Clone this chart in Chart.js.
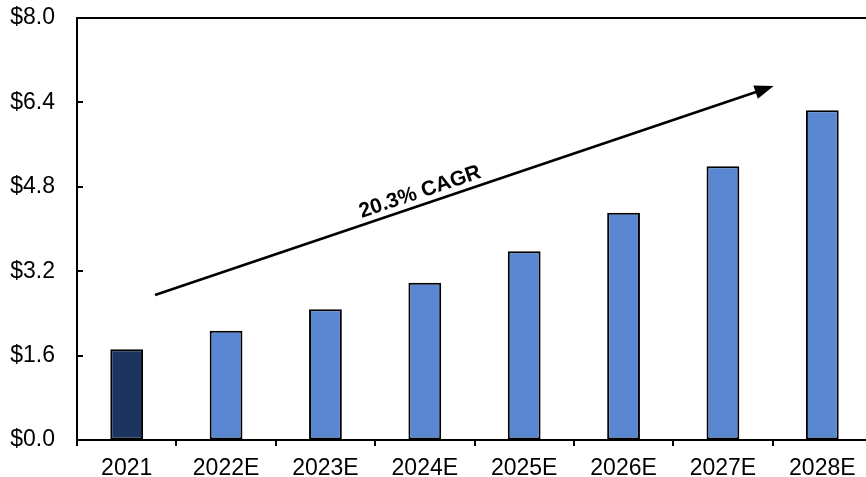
<!DOCTYPE html>
<html>
<head>
<meta charset="utf-8">
<script src="https://cdn.jsdelivr.net/npm/chart.js@4/dist/chart.umd.min.js"></script>
<style>
  html, body { margin: 0; padding: 0; background: #fff; overflow: hidden; }
  #wrap { width: 866px; height: 477px; overflow: hidden; }
</style>
</head>
<body>
<div id="wrap"><canvas id="c" width="872" height="477"></canvas></div>
<script>
// Market size, $ billions
const categories = ['2021', '2022E', '2023E', '2024E', '2025E', '2026E', '2027E', '2028E'];
const values = [1.72, 2.07, 2.48, 2.98, 3.58, 4.31, 5.19, 6.25];
const yTickValues = [0, 1.6, 3.2, 4.8, 6.4, 8.0];
const cagrLabel = '20.3% CAGR';

const actualColor = '#1c3560';
const forecastColor = '#5a87d1';
const font = 'Arial, "Liberation Sans", sans-serif';

// Frame: top border and inward y tick marks
const framePlugin = {
  id: 'frame',
  afterDatasetsDraw(chart) {
    const { ctx, chartArea: a, scales: { y } } = chart;
    ctx.save();
    ctx.strokeStyle = '#000';
    ctx.lineWidth = 2;
    ctx.beginPath();
    ctx.moveTo(a.left - 1, a.top);
    ctx.lineTo(a.right, a.top);
    ctx.stroke();
    ctx.beginPath();
    yTickValues.forEach(v => {
      const py = Math.round(y.getPixelForValue(v));
      ctx.moveTo(a.left, py);
      ctx.lineTo(a.left + 6, py);
    });
    ctx.stroke();
    ctx.restore();
  }
};

// Growth arrow with CAGR label, anchored in data units
const cagrArrowPlugin = {
  id: 'cagrArrow',
  afterDatasetsDraw(chart, args, opts) {
    const { ctx, scales: { x, y } } = chart;
    const x0 = x.getPixelForValue(opts.from[0]);
    const y0 = y.getPixelForValue(opts.from[1]);
    const x1 = x.getPixelForValue(opts.to[0]);
    const y1 = y.getPixelForValue(opts.to[1]);
    const ang = Math.atan2(y1 - y0, x1 - x0);
    const headLen = 19, headHalf = 7;
    ctx.save();
    ctx.strokeStyle = '#000';
    ctx.fillStyle = '#000';
    ctx.lineWidth = 2.6;
    ctx.beginPath();
    ctx.moveTo(x0, y0);
    ctx.lineTo(x1 - Math.cos(ang) * (headLen - 2), y1 - Math.sin(ang) * (headLen - 2));
    ctx.stroke();
    ctx.translate(x1, y1);
    ctx.rotate(ang);
    ctx.beginPath();
    ctx.moveTo(0, 0);
    ctx.lineTo(-headLen, -headHalf);
    ctx.lineTo(-headLen, headHalf);
    ctx.closePath();
    ctx.fill();
    ctx.restore();

    // label sits just above the line
    const t = opts.labelAt;
    const lx = x0 + (x1 - x0) * t;
    const ly = y0 + (y1 - y0) * t;
    ctx.save();
    ctx.translate(lx, ly);
    ctx.rotate(ang);
    ctx.font = 'bold 21px ' + font;
    ctx.fillStyle = '#000';
    ctx.textAlign = 'center';
    ctx.textBaseline = 'bottom';
    ctx.fillText(opts.label, 0, -2);
    ctx.restore();
  }
};

new Chart(document.getElementById('c'), {
  type: 'bar',
  data: {
    labels: categories,
    datasets: [{
      data: values,
      backgroundColor: ctx => ctx.dataIndex === 0 ? actualColor : forecastColor,
      borderColor: '#000',
      borderWidth: 2,
      borderSkipped: false,
      categoryPercentage: 1,
      barPercentage: 0.33
    }]
  },
  options: {
    responsive: false,
    animation: false,
    devicePixelRatio: 1,
    layout: { padding: { top: 18, left: 0, right: 0, bottom: 0 } },
    plugins: {
      legend: { display: false },
      tooltip: { enabled: false },
      cagrArrow: { from: [0.285, 2.75], to: [6.51, 6.71], labelAt: 0.435, label: cagrLabel }
    },
    scales: {
      x: {
        offset: true,
        grid: { display: true, drawOnChartArea: false, offset: true, tickLength: 6, color: '#000', lineWidth: 2 },
        border: { display: true, color: '#000', width: 2 },
        ticks: { color: '#000', font: { family: font, size: 23 }, padding: 9, maxRotation: 0, autoSkip: false },
        afterFit(scale) {
          scale.height = 37;
          scale.paddingLeft = 0;
          scale.paddingRight = 0;
        }
      },
      y: {
        min: 0,
        max: 8,
        afterBuildTicks(scale) { scale.ticks = yTickValues.map(v => ({ value: v })); },
        grid: { drawOnChartArea: false, drawTicks: false },
        border: { display: true, color: '#000', width: 2 },
        ticks: {
          color: '#000',
          font: { family: font, size: 23 },
          padding: 22,
          callback: v => '$' + Number(v).toFixed(1)
        },
        afterFit(scale) {
          scale.width = 77;
          scale.paddingTop = 0;
          scale.paddingBottom = 0;
        }
      }
    }
  },
  plugins: [framePlugin, cagrArrowPlugin]
});
</script>
</body>
</html>
